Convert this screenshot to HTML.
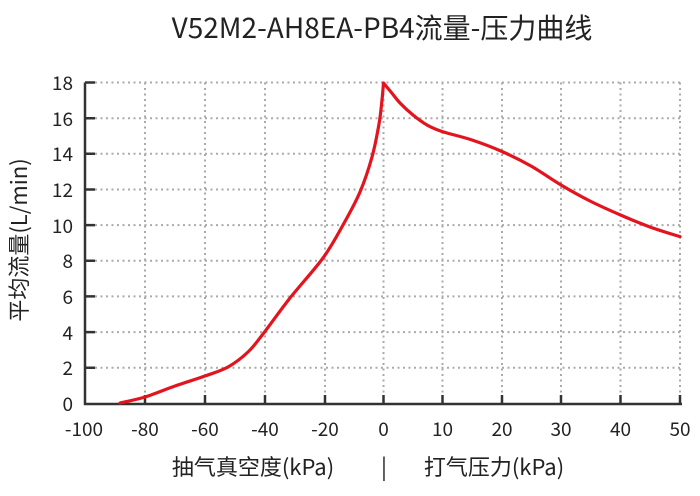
<!DOCTYPE html>
<html><head><meta charset="utf-8"><style>
body{margin:0;background:#fff;}
svg text{font-family:"Noto Sans CJK SC","Liberation Sans",sans-serif;fill:#222;}
</style></head><body>
<svg width="700" height="491" viewBox="0 0 700 491" xmlns="http://www.w3.org/2000/svg">
<text x="382" y="38" font-size="28" text-anchor="middle">V52M2-AH8EA-PB4流量-压力曲线</text>
<g stroke="#aaa" stroke-width="2" stroke-dasharray="2,3.5" fill="none">
<path d="M95 82.5H683M95 118.2H683M95 153.8H683M95 189.5H683M95 225.1H683M95 260.8H683M95 296.4H683M95 332.1H683M95 367.7H683"/>
<path d="M145 82.5V396M205 82.5V396M265 82.5V396M325 82.5V396M383.5 82.5V396M442.5 82.5V396M502 82.5V396M561 82.5V396M620.5 82.5V396M680 82.5V396"/>
</g>
<g stroke="#333" stroke-width="2.5" fill="none">
<path d="M85 82.5V404H682"/>
<path d="M85 82.5h10M85 118.2h10M85 153.8h10M85 189.5h10M85 225.1h10M85 260.8h10M85 296.4h10M85 332.1h10M85 367.7h10"/>
<path d="M145 404v-9M205 404v-9M265 404v-9M325 404v-9M383.5 404v-9M442.5 404v-9M502 404v-9M561 404v-9M620.5 404v-9M680 404v-9"/>
</g>
<g font-size="19" text-anchor="end">
<text x="73" y="411">0</text><text x="73" y="375">2</text><text x="73" y="340">4</text><text x="73" y="304">6</text><text x="73" y="268">8</text><text x="73" y="233">10</text><text x="73" y="197">12</text><text x="73" y="161">14</text><text x="73" y="126">16</text><text x="73" y="90">18</text>
</g>
<g font-size="19" text-anchor="middle">
<text x="84" y="436">-100</text><text x="145" y="436">-80</text><text x="205" y="436">-60</text><text x="265" y="436">-40</text><text x="325" y="436">-20</text><text x="383.5" y="436">0</text><text x="442.5" y="436">10</text><text x="502" y="436">20</text><text x="561" y="436">30</text><text x="620.5" y="436">40</text><text x="680" y="436">50</text>
</g>
<text x="253" y="475" font-size="22" text-anchor="middle">抽气真空度(kPa)</text>
<text x="384" y="475" font-size="22" text-anchor="middle">|</text>
<text x="494" y="475" font-size="22" text-anchor="middle">打气压力(kPa)</text>
<text transform="translate(27,240) rotate(-90)" font-size="22" text-anchor="middle">平均流量(L/min)</text>
<path id="c" d="" fill="none" stroke="#e3141d" stroke-width="3.2" stroke-linejoin="round" stroke-linecap="round"/>
</svg>
<script>
function cr(p){var d="M"+p[0][0]+" "+p[0][1];for(var i=0;i<p.length-1;i++){var a=p[i-1]||p[i],b=p[i],c=p[i+1],e=p[i+2]||c;d+=" C"+(b[0]+(c[0]-a[0])/6)+" "+(b[1]+(c[1]-a[1])/6)+" "+(c[0]-(e[0]-b[0])/6)+" "+(c[1]-(e[1]-b[1])/6)+" "+c[0]+" "+c[1];}return d;}
var L=[[120,403],[145,397],[175,386],[205,376],[228,367],[248,352],[263,334],[290,298],[323,258],[343,225],[360,192],[372,157],[379,124],[382,100],[383.5,83]];
var R=[[383.5,83],[391,92],[400,103],[413,115],[427,125],[442,131.5],[472,140],[502,151.5],[531,166],[561,185],[590,201],[620.5,215],[650,227],[680,236.7]];
document.getElementById("c").setAttribute("d",cr(L)+" "+cr(R).replace(/^M[^C]*/,""));
</script>
</body></html>
